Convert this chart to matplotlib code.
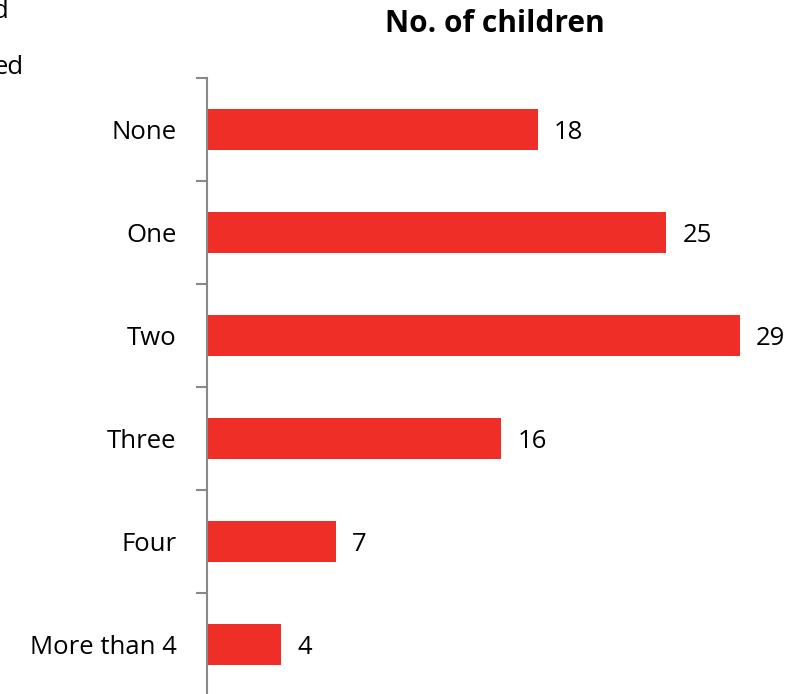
import matplotlib.pyplot as plt
import numpy as np

plt.rc('font', family='Open Sans')

categories = ['None', 'One', 'Two', 'Three', 'Four', 'More than 4']
counts = [18, 25, 29, 16, 7, 4]
title = 'No. of children'

fig = plt.figure(figsize=(8.04, 6.94), dpi=100)
ax = fig.add_axes([0.2575, -0.003, 0.7425, 0.8906])

y = np.arange(len(categories))
ax.barh(y, counts, height=0.4, color='#ee2e27')
for yi, v in zip(y, counts):
    ax.text(v + 0.9, yi, str(v), va='center_baseline', ha='left', fontsize=18.5)

ax.set_ylim(len(categories) - 0.5, -0.5)
ax.set_xlim(0, 32.5)

# boundaries get the tick marks, centres get the labels
ax.set_yticks(np.arange(-0.5, len(categories), 1.0))
ax.set_yticklabels([])
ax.set_yticks(y, minor=True)
ax.set_yticklabels(categories, minor=True, fontsize=18.5)
ax.tick_params(axis='y', which='major', length=8, width=1.5, color='#888888')
ax.tick_params(axis='y', which='minor', length=0, pad=22)
ax.set_xticks([])

for s in ['top', 'right', 'bottom']:
    ax.spines[s].set_visible(False)
ax.spines['left'].set_color('#888888')
ax.spines['left'].set_linewidth(1.5)

fig.text(495 / 804, 1 - 24 / 694, title, ha='center', va='center',
         fontsize=21.5, weight='bold')

# text cut off from a neighbouring chart at the left edge
fig.text(8 / 804, 1 - 12 / 694, 'd', ha='right', va='center', fontsize=18.5)
fig.text(24 / 804, 1 - 67 / 694, 'ed', ha='right', va='center', fontsize=18.5)

plt.savefig('out.png', dpi=100)
